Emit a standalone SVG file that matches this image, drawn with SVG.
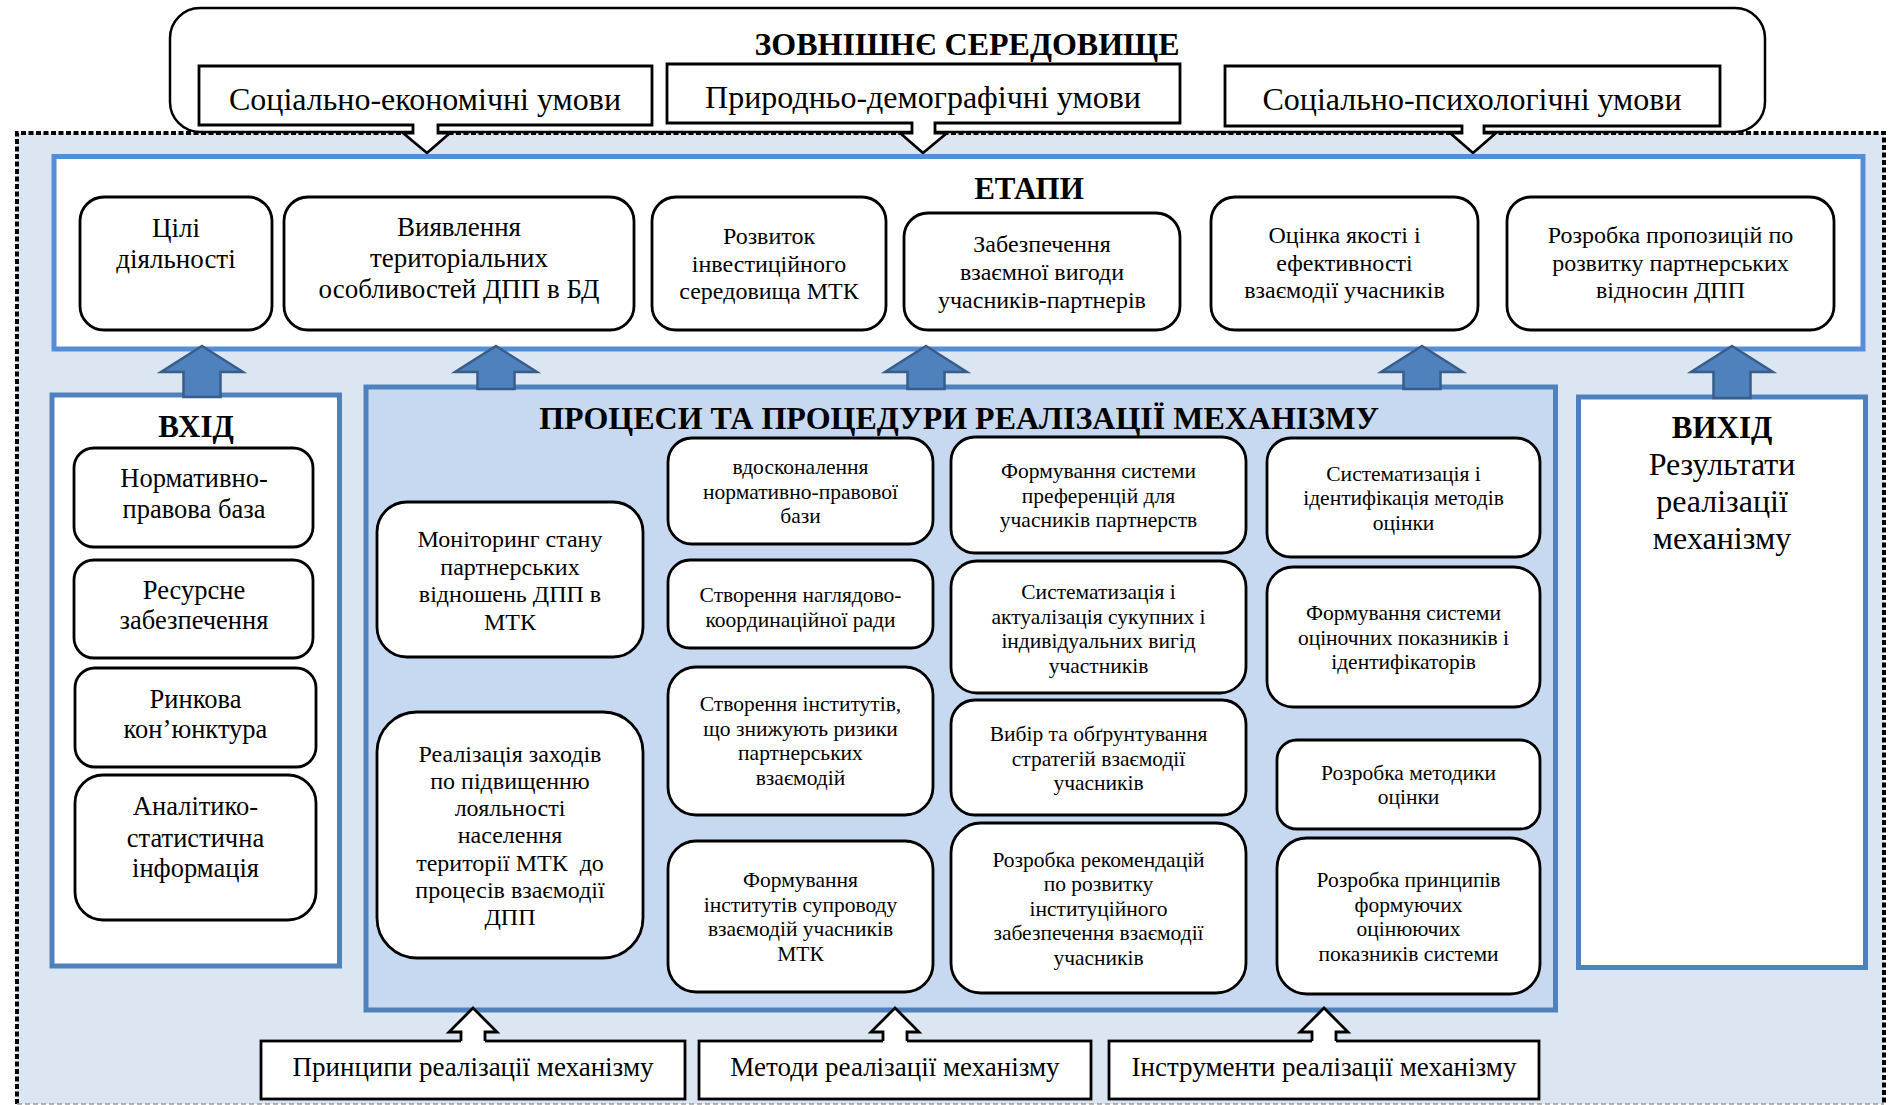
<svg xmlns="http://www.w3.org/2000/svg" width="1892" height="1105" viewBox="0 0 1892 1105">
<style>
.t{font-family:'Liberation Serif','Times New Roman',serif;fill:#000;text-anchor:middle}
.b{font-weight:bold}
.box{fill:#fff;stroke:#000;stroke-width:2.8}
.frame{stroke:#4f81bd;stroke-width:5}
.barrow{fill:#4f81bd;stroke:#385d8a;stroke-width:2.5}
.f27{font-size:27px}.f24{font-size:24px}.f26{font-size:26.5px}.f21{font-size:21.5px}.f32{font-size:32px}.f31{font-size:31px}
</style>
<rect id="background" x="0" y="0" width="1892" height="1105" fill="#fff"/>
<g id="environment-area">
<rect x="17" y="133" width="1867" height="971" fill="#dce6f2"/>
<path d="M17,1104 V133 H1884 V1104" fill="none" stroke="#000" stroke-width="4" stroke-dasharray="5 2.5"/>
<line x1="17" y1="1104" x2="1884" y2="1104" stroke="#9a9a9a" stroke-width="1.5" stroke-dasharray="5 3"/>
</g>
<g id="external">
<rect x="170" y="8" width="1595" height="124" rx="30" fill="#fff" stroke="#000" stroke-width="2.5"/>
<text class="t b f32" x="967" y="55">ЗОВНІШНЄ СЕРЕДОВИЩЕ</text>
</g>
<g id="cond-socio-economic">
<path class="box" d="M199,66 H652 V125 H438 V133 H450 L427,153 L403,133 H413 V125 H199 Z"/>
<text class="t f32" x="425" y="110">Соціально-економічні умови</text>
</g>
<g id="cond-natural-demographic">
<path class="box" d="M667,64 H1180 V123 H935 V133 H947 L923,153 L900,133 H912 V123 H667 Z"/>
<text class="t f32" x="923" y="108">Природньо-демографічні умови</text>
</g>
<g id="cond-socio-psychological">
<path class="box" d="M1225,66 H1720 V126 H1484 V133 H1496 L1473,153 L1450,133 H1462 V126 H1225 Z"/>
<text class="t f32" x="1472" y="110">Соціально-психологічні умови</text>
</g>
<g id="stages">
<rect x="54" y="156.5" width="1809" height="192.5" fill="#fff" stroke="#558ed5" stroke-width="5"/>
<text class="t b f31" x="1029" y="199">ЕТАПИ</text>
</g>
<g id="stage-1">
<rect class="box" x="80" y="197" width="192" height="133" rx="24"/>
<text class="t f27"><tspan x="176" y="237">Цілі</tspan><tspan x="176" y="268">діяльності</tspan></text>
</g>
<g id="stage-2">
<rect class="box" x="284" y="197" width="350" height="133" rx="24"/>
<text class="t f27"><tspan x="459" y="236">Виявлення</tspan><tspan x="459" y="267">територіальних</tspan><tspan x="459" y="298">особливостей ДПП в БД</tspan></text>
</g>
<g id="stage-3">
<rect class="box" x="652" y="197" width="234" height="133" rx="24"/>
<text class="t f24"><tspan x="769" y="244">Розвиток</tspan><tspan x="769" y="271.5">інвестиційного</tspan><tspan x="769" y="299">середовища МТК</tspan></text>
</g>
<g id="stage-4">
<rect class="box" x="904" y="213" width="276" height="117" rx="24"/>
<text class="t f24"><tspan x="1042" y="252">Забезпечення</tspan><tspan x="1042" y="280">взаємної вигоди</tspan><tspan x="1042" y="308">учасників-партнерів</tspan></text>
</g>
<g id="stage-5">
<rect class="box" x="1211" y="197" width="267" height="133" rx="24"/>
<text class="t f24"><tspan x="1344.5" y="243">Оцінка якості і</tspan><tspan x="1344.5" y="271">ефективності</tspan><tspan x="1344.5" y="298">взаємодії учасників</tspan></text>
</g>
<g id="stage-6">
<rect class="box" x="1507" y="197" width="327" height="133" rx="24"/>
<text class="t f24"><tspan x="1670.5" y="243">Розробка пропозицій по</tspan><tspan x="1670.5" y="271">розвитку партнерських</tspan><tspan x="1670.5" y="298">відносин ДПП</tspan></text>
</g>
<g id="input">
<rect x="52" y="395" width="287.5" height="571" fill="#fff" class="frame"/>
<text class="t b f31" x="196" y="437">ВХІД</text>
</g>
<g id="input-1">
<rect class="box" x="74" y="448" width="239" height="99" rx="20"/>
<text class="t f26"><tspan x="194" y="487">Нормативно-</tspan><tspan x="194" y="518">правова база</tspan></text>
</g>
<g id="input-2">
<rect class="box" x="74" y="560" width="239" height="98" rx="20"/>
<text class="t f26"><tspan x="194" y="599">Ресурсне</tspan><tspan x="194" y="629">забезпечення</tspan></text>
</g>
<g id="input-3">
<rect class="box" x="75" y="668" width="241" height="99" rx="20"/>
<text class="t f26"><tspan x="195.5" y="708">Ринкова</tspan><tspan x="195.5" y="738">кон’юнктура</tspan></text>
</g>
<g id="input-4">
<rect class="box" x="75" y="775" width="241" height="145" rx="28"/>
<text class="t f26"><tspan x="195.5" y="815">Аналітико-</tspan><tspan x="195.5" y="847">статистична</tspan><tspan x="195.5" y="877">інформація</tspan></text>
</g>
<g id="processes">
<rect x="366" y="387" width="1189.5" height="623" fill="#c6d9f1" class="frame"/>
<text class="t b f32" x="959" y="429">ПРОЦЕСИ ТА ПРОЦЕДУРИ РЕАЛІЗАЦІЇ МЕХАНІЗМУ</text>
</g>
<g id="proc-monitoring">
<rect class="box" x="377" y="502" width="266" height="155" rx="30"/>
<text class="t f24"><tspan x="510" y="547">Моніторинг стану</tspan><tspan x="510" y="574.5">партнерських</tspan><tspan x="510" y="602">відношень ДПП в</tspan><tspan x="510" y="629.5">МТК</tspan></text>
</g>
<g id="proc-loyalty">
<rect class="box" x="377" y="712" width="266" height="246" rx="40"/>
<text class="t f24" xml:space="preserve"><tspan x="510" y="761.5">Реалізація заходів</tspan><tspan x="510" y="788.8">по підвищенню</tspan><tspan x="510" y="816.1">лояльності</tspan><tspan x="510" y="843.4">населення</tspan><tspan x="510" y="870.7">території МТК  до</tspan><tspan x="510" y="898">процесів взаємодії</tspan><tspan x="510" y="925.3">ДПП</tspan></text>
</g>
<g id="proc-b1">
<rect class="box" x="668" y="438" width="265" height="106" rx="24"/>
<text class="t f21"><tspan x="800.5" y="474">вдосконалення</tspan><tspan x="800.5" y="498.5">нормативно-правової</tspan><tspan x="800.5" y="523">бази</tspan></text>
</g>
<g id="proc-b2">
<rect class="box" x="668" y="560" width="265" height="88" rx="22"/>
<text class="t f21"><tspan x="800.5" y="602">Створення наглядово-</tspan><tspan x="800.5" y="626.5">координаційної ради</tspan></text>
</g>
<g id="proc-b3">
<rect class="box" x="668" y="667" width="265" height="148" rx="28"/>
<text class="t f21"><tspan x="800.5" y="711">Створення інститутів,</tspan><tspan x="800.5" y="735.5">що знижують ризики</tspan><tspan x="800.5" y="760">партнерських</tspan><tspan x="800.5" y="784.5">взаємодій</tspan></text>
</g>
<g id="proc-b4">
<rect class="box" x="668" y="841" width="265" height="151" rx="28"/>
<text class="t f21"><tspan x="800.5" y="887">Формування</tspan><tspan x="800.5" y="911.5">інститутів супроводу</tspan><tspan x="800.5" y="936">взаємодій учасників</tspan><tspan x="800.5" y="960.5">МТК</tspan></text>
</g>
<g id="proc-c1">
<rect class="box" x="951" y="437" width="295" height="116" rx="24"/>
<text class="t f21"><tspan x="1098.5" y="478">Формування системи</tspan><tspan x="1098.5" y="502.5">преференцій для</tspan><tspan x="1098.5" y="527">учасників партнерств</tspan></text>
</g>
<g id="proc-c2">
<rect class="box" x="951" y="561" width="295" height="132" rx="26"/>
<text class="t f21"><tspan x="1098.5" y="599">Систематизація і</tspan><tspan x="1098.5" y="623.5">актуалізація сукупних і</tspan><tspan x="1098.5" y="648">індивідуальних вигід</tspan><tspan x="1098.5" y="672.5">участників</tspan></text>
</g>
<g id="proc-c3">
<rect class="box" x="951" y="700" width="295" height="115" rx="24"/>
<text class="t f21"><tspan x="1098.5" y="741">Вибір та обґрунтування</tspan><tspan x="1098.5" y="765.5">стратегій взаємодії</tspan><tspan x="1098.5" y="790">учасників</tspan></text>
</g>
<g id="proc-c4">
<rect class="box" x="951" y="823" width="295" height="170" rx="30"/>
<text class="t f21"><tspan x="1098.5" y="866.5">Розробка рекомендацій</tspan><tspan x="1098.5" y="891">по розвитку</tspan><tspan x="1098.5" y="915.5">інституційного</tspan><tspan x="1098.5" y="940">забезпечення взаємодії</tspan><tspan x="1098.5" y="964.5">учасників</tspan></text>
</g>
<g id="proc-d1">
<rect class="box" x="1267" y="438" width="273" height="119" rx="24"/>
<text class="t f21"><tspan x="1403.5" y="480.5">Систематизація і</tspan><tspan x="1403.5" y="505">ідентифікація методів</tspan><tspan x="1403.5" y="529.5">оцінки</tspan></text>
</g>
<g id="proc-d2">
<rect class="box" x="1267" y="567" width="273" height="140" rx="26"/>
<text class="t f21"><tspan x="1403.5" y="620">Формування системи</tspan><tspan x="1403.5" y="644.5">оціночних показників і</tspan><tspan x="1403.5" y="669">ідентифікаторів</tspan></text>
</g>
<g id="proc-d3">
<rect class="box" x="1277" y="740" width="263" height="89" rx="20"/>
<text class="t f21"><tspan x="1408.5" y="779.75">Розробка методики</tspan><tspan x="1408.5" y="804.25">оцінки</tspan></text>
</g>
<g id="proc-d4">
<rect class="box" x="1277" y="838" width="263" height="156" rx="30"/>
<text class="t f21"><tspan x="1408.5" y="887">Розробка принципів</tspan><tspan x="1408.5" y="911.5">формуючих</tspan><tspan x="1408.5" y="936">оцінюючих</tspan><tspan x="1408.5" y="960.5">показників системи</tspan></text>
</g>
<g id="output">
<rect x="1578.5" y="397" width="287" height="570.5" fill="#fff" class="frame"/>
<text class="t b f31" x="1722" y="438">ВИХІД</text>
<text class="t f32"><tspan x="1722" y="475">Результати</tspan><tspan x="1722" y="512">реалізації</tspan><tspan x="1722" y="549">механізму</tspan></text>
</g>
<g id="principles">
<rect class="box" x="261" y="1041" width="424" height="58"/>
<text class="t f27" x="473" y="1076">Принципи реалізації механізму</text>
</g>
<g id="methods">
<rect class="box" x="699" y="1041" width="392" height="58"/>
<text class="t f27" x="895" y="1076">Методи реалізації механізму</text>
</g>
<g id="instruments">
<rect class="box" x="1109" y="1041" width="430" height="58"/>
<text class="t f27" x="1324" y="1076">Інструменти реалізації механізму</text>
</g>
<g id="connectors">
<path class="barrow" d="M202,346 L243,372 H220.5 V397 H183.5 V372 H161 Z"/>
<path class="barrow" d="M496,346 L537,372 H514.5 V389 H477.5 V372 H455 Z"/>
<path class="barrow" d="M926,346 L967,372 H944.5 V389 H907.5 V372 H885 Z"/>
<path class="barrow" d="M1422,346 L1463,372 H1440.5 V389 H1403.5 V372 H1381 Z"/>
<path class="barrow" d="M1732,346 L1773,372 H1750.5 V398 H1713.5 V372 H1691 Z"/>
<path d="M473,1008 L497,1032 H485 V1043 H461 V1032 H449 Z" fill="#fff"/>
<path d="M461,1041 V1032 H449 L473,1008 L497,1032 H485 V1041" fill="none" stroke="#000" stroke-width="2.8"/>
<path d="M895,1008 L919,1032 H907 V1043 H883 V1032 H871 Z" fill="#fff"/>
<path d="M883,1041 V1032 H871 L895,1008 L919,1032 H907 V1041" fill="none" stroke="#000" stroke-width="2.8"/>
<path d="M1324,1008 L1348,1032 H1336 V1043 H1312 V1032 H1300 Z" fill="#fff"/>
<path d="M1312,1041 V1032 H1300 L1324,1008 L1348,1032 H1336 V1041" fill="none" stroke="#000" stroke-width="2.8"/>
</g>
</svg>
